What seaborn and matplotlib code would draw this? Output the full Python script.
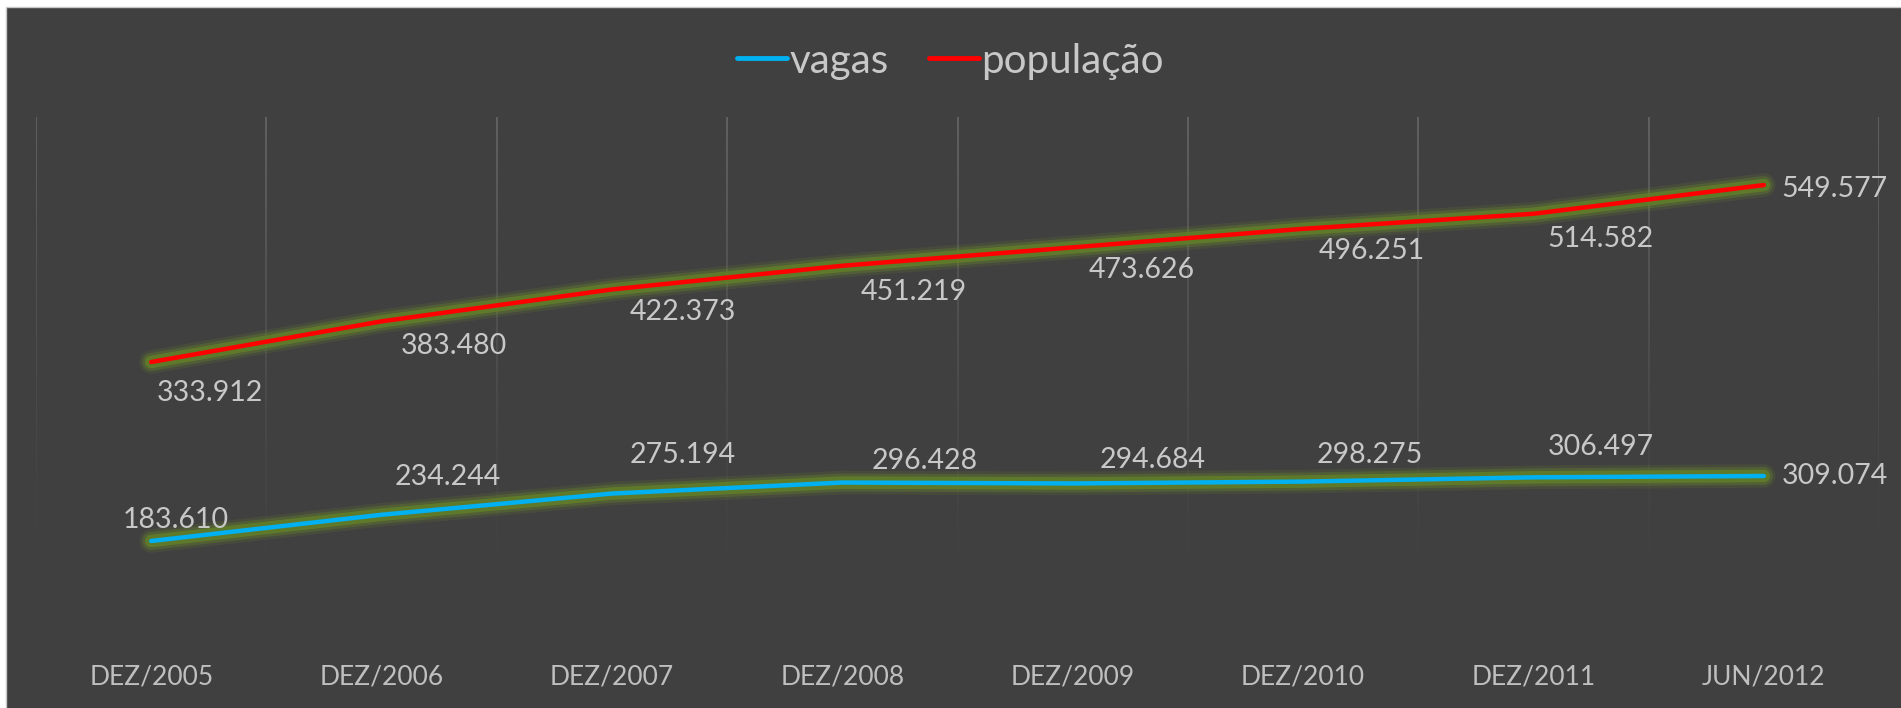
import numpy as np
import pandas as pd
import seaborn as sns
import matplotlib.pyplot as plt
import matplotlib.patheffects as pe
from matplotlib.lines import Line2D
from matplotlib.patches import Rectangle

# data (people)
periods = ['DEZ/2005', 'DEZ/2006', 'DEZ/2007', 'DEZ/2008',
           'DEZ/2009', 'DEZ/2010', 'DEZ/2011', 'JUN/2012']
vagas = [183610, 234244, 275194, 296428, 294684, 298275, 306497, 309074]
populacao = [333912, 383480, 422373, 451219, 473626, 496251, 514582, 549577]

# label offsets from each point, in pixels (dx right, dy down)
vagas_off = [(25, -21), (66, -38), (71, -39), (82, -22),
             (80, -23), (67, -27), (67, -30), (71, 0)]
pop_off = [(59, 31), (72, 25), (71, 23), (71, 26),
           (69, 23), (69, 22), (67, 25), (71, 4)]

df = pd.DataFrame({'x': range(len(periods)), 'periodo': periods,
                   'vagas': vagas, 'populacao': populacao})

sns.set_theme(style='dark')
plt.rcParams['font.family'] = ['Lato', 'DejaVu Sans']

BG = '#404040'
TXT = '#C8C8C8'

fig = plt.figure(figsize=(19.01, 7.08), dpi=100)
fig.patch.set_facecolor('white')
fig.add_artist(Rectangle((6 / 1901, -0.01), 1.1, 1.01 - 7 / 708, transform=fig.transFigure,
                         facecolor=BG, edgecolor='#C8C8C8', lw=1, zorder=0))

ax = fig.add_axes([36 / 1901, 1 - 640 / 708, 1843 / 1901, 523 / 708])
ax.set_facecolor('none')
ax2 = ax.twinx()
ax2.set_facecolor('none')

# fading vertical gridlines at category boundaries
bounds = np.arange(-0.5, len(periods), 1)
n = 40
ys = np.linspace(1.0, 0.12, n + 1)
for b in bounds:
    for k in range(n):
        a = 0.9 * (1 - k / n) ** 1.3
        ax.plot([b, b], [ys[k], ys[k + 1]], color='#6a6a6a', alpha=a, lw=1.2,
                transform=ax.get_xaxis_transform(), solid_capstyle='butt', zorder=1)

# soft olive glow around the lines
glow = [pe.Stroke(linewidth=17, foreground='#6f8f2a', alpha=0.15),
        pe.Stroke(linewidth=13, foreground='#6b8a2a', alpha=0.3),
        pe.Stroke(linewidth=9, foreground='#627f28', alpha=0.85),
        pe.Normal()]

sns.lineplot(data=df, x='x', y='vagas', ax=ax, color='#00B0F0', lw=3.2,
             solid_capstyle='round', path_effects=glow, zorder=3)
sns.lineplot(data=df, x='x', y='populacao', ax=ax2, color='#FF0000', lw=3.2,
             solid_capstyle='round', path_effects=glow, zorder=3)

ax.set_ylim(-7500, 1002000)
ax2.set_ylim(-4800, 632500)
ax.set_xlim(-0.5, len(periods) - 0.5)


def fmt(v):
    return f'{v:,}'.replace(',', '.')


for i, v in enumerate(vagas):
    dx, dy = vagas_off[i]
    ax.annotate(fmt(v), (i, v), xytext=(dx * 0.72, -dy * 0.72), textcoords='offset points',
                ha='center', va='center', fontsize=20.5, color=TXT)
for i, v in enumerate(populacao):
    dx, dy = pop_off[i]
    ax2.annotate(fmt(v), (i, v), xytext=(dx * 0.72, -dy * 0.72), textcoords='offset points',
                 ha='center', va='center', fontsize=20.5, color=TXT)

ax.set_xticks(range(len(periods)))
ax.set_xticklabels(periods, fontsize=19, color='#BFBFBF')
ax.tick_params(axis='x', length=0, pad=18)
for a in (ax, ax2):
    a.set_yticks([])
    a.set_xlabel('')
    a.set_ylabel('')
    a.grid(False)
    for s in a.spines.values():
        s.set_visible(False)

handles = [Line2D([], [], color='#00B0F0', lw=3.5),
           Line2D([], [], color='#FF0000', lw=3.5)]
fig.legend(handles, ['vagas', 'população'], loc='center', bbox_to_anchor=(0.5, 1 - 61 / 708),
           ncol=2, frameon=False, fontsize=29, labelcolor=TXT, handlelength=1.25,
           handletextpad=0.05, columnspacing=1.0)

fig.savefig('out.png', dpi=100)
